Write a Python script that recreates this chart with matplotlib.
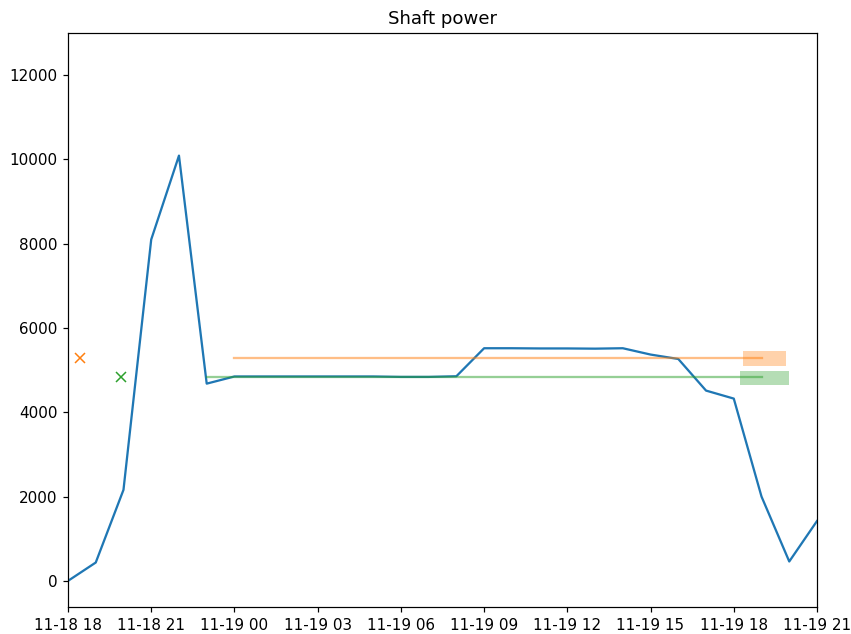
import matplotlib
matplotlib.use("Agg")
import matplotlib.pyplot as plt
import matplotlib.dates as mdates
import pandas as pd

# Data
times = pd.date_range("2023-11-18 18:00", "2023-11-19 21:00", freq="h")
shaft_power = [0, 435, 2160, 8100, 10090, 4680,
               4850, 4850, 4850, 4850, 4850, 4850, 4840, 4840, 4855,
               5520, 5520, 5515, 5515, 5510, 5520, 5370, 5265,
               4515, 4325, 2000, 460, 1420]

orange_level = 5295
orange_start, orange_end = "2023-11-19 00:00", "2023-11-19 19:00"
orange_marker_time = "2023-11-18 18:27"
orange_band_x = ["2023-11-19 18:20", "2023-11-19 19:53"]
orange_band_y = [5107, 5463]

green_level = 4830
green_start, green_end = "2023-11-18 23:00", "2023-11-19 19:00"
green_marker_time = "2023-11-18 19:55"
green_band_x = ["2023-11-19 18:13", "2023-11-19 20:00"]
green_band_y = [4656, 4988]

dpi = 109
fig = plt.figure(figsize=(851 / dpi, 634 / dpi), dpi=dpi)
ax = fig.add_axes([68 / 851, 1 - 607 / 634, (817 - 68) / 851, (607 - 33) / 634])

ax.plot(times, shaft_power, color="C0", lw=1.5)

ax.plot(pd.to_datetime([orange_start, orange_end]), [orange_level, orange_level],
        color="C1", alpha=0.5, lw=1.5)
ax.plot(pd.to_datetime([green_start, green_end]), [green_level, green_level],
        color="C2", alpha=0.5, lw=1.5)

ax.plot(pd.to_datetime([orange_marker_time]), [orange_level], "x", color="C1")
ax.plot(pd.to_datetime([green_marker_time]), [green_level], "x", color="C2")

ax.fill_between(pd.to_datetime(orange_band_x), orange_band_y[0], orange_band_y[1],
                color="C1", alpha=0.35, lw=0)
ax.fill_between(pd.to_datetime(green_band_x), green_band_y[0], green_band_y[1],
                color="C2", alpha=0.35, lw=0)

ax.set_xlim(times[0], times[-1])
ax.set_ylim(-620, 13000)
ax.xaxis.set_major_locator(mdates.HourLocator(byhour=range(0, 24, 3)))
ax.xaxis.set_major_formatter(mdates.DateFormatter("%m-%d %H"))
ax.set_title("Shaft power", fontsize=12)

fig.savefig("out.png", dpi=dpi)
